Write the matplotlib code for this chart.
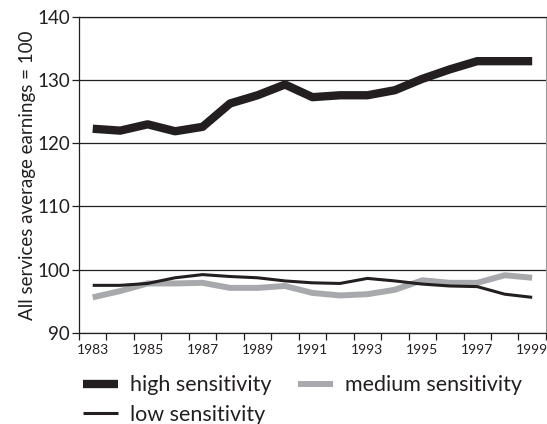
import matplotlib
matplotlib.use("Agg")
import matplotlib.pyplot as plt

years = list(range(1983, 2000))
high = [122.3, 122.0, 123.0, 121.9, 122.6, 126.3, 127.6, 129.3, 127.3, 127.6,
        127.6, 128.4, 130.2, 131.7, 133.0, 133.0, 133.0]
medium = [95.6, 96.6, 97.8, 97.8, 97.9, 97.1, 97.1, 97.4, 96.3, 95.9,
          96.1, 96.8, 98.3, 97.9, 97.9, 99.1, 98.7]
low = [97.5, 97.5, 97.8, 98.7, 99.2, 98.9, 98.7, 98.2, 97.9, 97.8,
       98.6, 98.2, 97.7, 97.4, 97.3, 96.1, 95.6]
y_ticks = [90, 100, 110, 120, 130, 140]

plt.rcParams['font.family'] = ['Lato', 'DejaVu Sans']
txt = '#231f20'

fig = plt.figure(figsize=(5.47, 4.24), dpi=100)
ax = fig.add_axes([0.1444, 0.2153, 0.8536, 0.7447])

x = list(range(len(years)))
h_high, = ax.plot(x, high, color='#231f20', lw=6.0, solid_capstyle='butt', zorder=3)
h_med, = ax.plot(x, medium, color='#a7a9ac', lw=4.3, solid_capstyle='butt', zorder=2)
h_low, = ax.plot(x, low, color='#231f20', lw=2.2, solid_capstyle='butt', zorder=4)

ax.set_xlim(-0.5, len(years) - 0.5)
ax.set_ylim(90, 140)

# y axis
ax.set_yticks(y_ticks)
ax.set_yticklabels([str(v) for v in y_ticks], fontsize=13.5, color=txt)
ax.yaxis.grid(True, color='#231f20', lw=0.9)
ax.set_axisbelow(True)
ax.tick_params(axis='y', length=5, width=0.9, color='#231f20', pad=1.5)
ax.set_ylabel('All services average earnings = 100', fontsize=13.5, color=txt,
              labelpad=1)

# x axis: ticks between categories, labels at centers
ax.set_xticks([i - 0.5 for i in range(len(years) + 1)])
ax.set_xticklabels([])
ax.set_xticks(x[::2], minor=True)
ax.set_xticklabels([str(y) for y in years[::2]], minor=True, fontsize=10.0,
                   color=txt)
ax.tick_params(axis='x', which='major', length=5, width=0.9, color='#231f20')
ax.tick_params(axis='x', which='minor', length=0, pad=8)

for s in ['left', 'bottom', 'top']:
    ax.spines[s].set_color('#231f20')
    ax.spines[s].set_linewidth(0.9)
ax.spines['right'].set_color('#999999')
ax.spines['right'].set_linewidth(0.8)

leg = fig.legend([h_high, h_low, h_med],
                 ['high sensitivity', 'low sensitivity', 'medium sensitivity'],
                 ncol=2, loc='upper left', bbox_to_anchor=(0.124, 0.15),
                 frameon=False, fontsize=15.5, handlelength=1.63,
                 columnspacing=1.25, handletextpad=0.55, labelspacing=0.42,
                 borderpad=0.2)
for t in leg.get_texts():
    t.set_color(txt)

fig.savefig('out.png', dpi=100)
